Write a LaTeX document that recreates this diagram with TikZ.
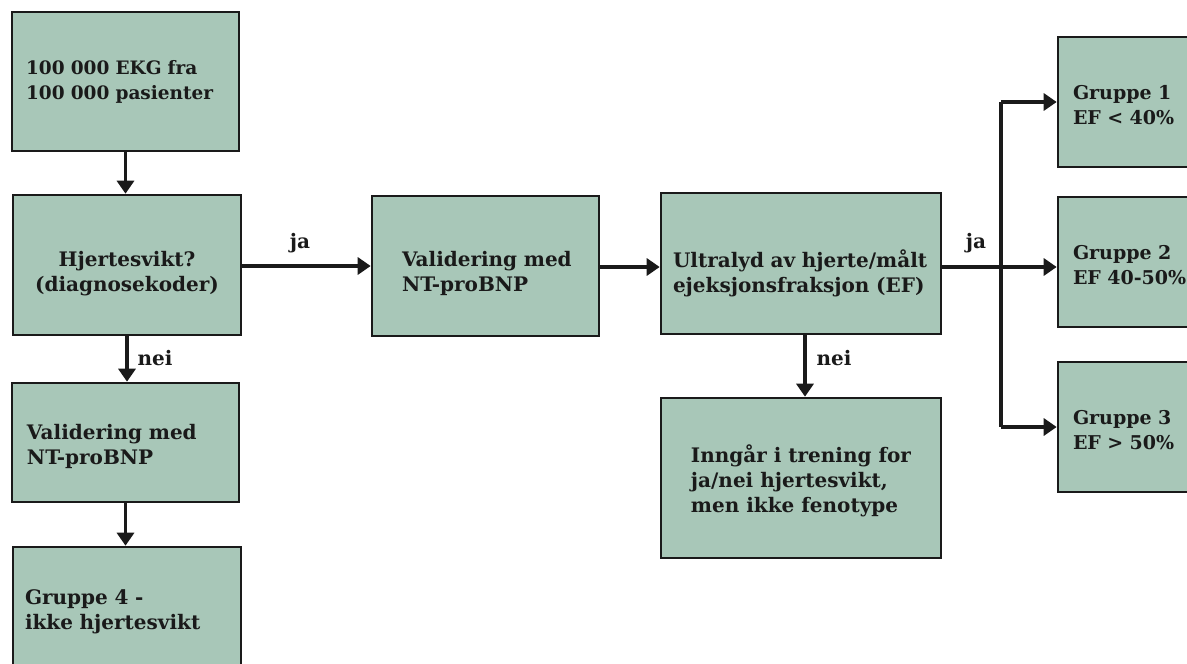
\documentclass[tikz,border=0pt]{standalone}
\usepackage{fontspec}
\setmainfont{DejaVu Serif}
\usetikzlibrary{arrows.meta}
\definecolor{boxfill}{RGB}{168,199,184}
\definecolor{ink}{RGB}{26,26,26}
% #1 = column type, #2 = downward shift, #3 = lines
\newcommand{\txtlines}[3]{\begin{tabular}{@{}#1@{}}\rule{0pt}{\dimexpr\ht\strutbox+#2*2\relax}#3\end{tabular}}
\tikzset{
  box/.style={draw=ink, line width=2.6pt, fill=boxfill, inner ysep=0pt,
    font=\bfseries\fontsize{20}{25}\selectfont, text=ink},
  smallfont/.style={font=\bfseries\fontsize{19}{24.5}\selectfont},
  arr/.style={draw=ink, line width=3.3pt, -{Triangle[width=17pt,length=13pt]}},
  ln/.style={draw=ink, line width=3.3pt},
  lbl/.style={font=\bfseries\fontsize{20}{25}\selectfont, text=ink, inner sep=0pt}
}
\begin{document}
\begin{tikzpicture}[x=1pt,y=-1pt]
\useasboundingbox (0,0) rectangle (1187,664);
\clip (0,0) rectangle (1187,664);
% boxes
\node[box, font=\bfseries\fontsize{18.5}{24.5}\selectfont, minimum width=227pt, minimum height=139pt, inner xsep=14pt, text width=199pt, align=left] (A) at (125.5,81.5) {\txtlines{l}{0.5pt}{100 000 EKG fra\\100 000 pasienter}};
\node[box, minimum width=228pt, minimum height=140pt, align=center] (B) at (127,265) {\txtlines{c}{9pt}{Hjertesvikt?\\(diagnosekoder)}};
\node[box, minimum width=227pt, minimum height=119pt, inner xsep=15pt, text width=197pt, align=left] (C) at (125.5,442.5) {\txtlines{l}{4pt}{Validering med\\NT-proBNP}};
\node[box, minimum width=228pt, minimum height=126pt, inner xsep=12pt, text width=204pt, align=left] (D) at (127,610) {\txtlines{l}{2pt}{Gruppe 4 -\\ikke hjertesvikt}};
\node[box, minimum width=227pt, minimum height=140pt, inner xsep=30pt, text width=167pt, align=left] (E) at (485.5,266) {\txtlines{l}{8pt}{Validering med\\NT-proBNP}};
\node[box, minimum width=280pt, minimum height=141pt, inner xsep=12pt, text width=256pt, align=left] (F) at (801,263.5) {\txtlines{l}{11pt}{Ultralyd av hjerte/målt\\ejeksjonsfraksjon (EF)}};
\node[box, minimum width=280pt, minimum height=160pt, align=center] (G) at (801,478) {\txtlines{l}{4pt}{Inngår i trening for\\ja/nei hjertesvikt,\\men ikke fenotype}};
\node[box, smallfont, minimum width=150pt, minimum height=130pt, inner xsep=15pt, text width=120pt, align=left] (R1) at (1133,102) {\txtlines{l}{5pt}{Gruppe 1\\EF < 40\%}};
\node[box, smallfont, minimum width=150pt, minimum height=130pt, inner xsep=15pt, text width=120pt, align=left] (R2) at (1133,262) {\txtlines{l}{5pt}{Gruppe 2\\EF 40-50\%}};
\node[box, smallfont, minimum width=150pt, minimum height=130pt, inner xsep=15pt, text width=120pt, align=left] (R3) at (1133,427) {\txtlines{l}{5pt}{Gruppe 3\\EF > 50\%}};
% connectors
\draw[arr] (A.south) -- (A.south |- B.north);
\draw[arr] (B.east |- E.west) -- (E.west);
\draw[arr] (B.south) -- (B.south |- C.north);
\draw[arr] (C.south) -- (C.south |- D.north);
\draw[arr] (E.east |- 0,267) -- (F.west |- 0,267);
\draw[arr] (F.south -| 805,0) -- (805,0 |- G.north);
\coordinate (J) at (1001,267);
\draw[arr] (F.east |- J) -- (J -| R2.west);
\draw[ln] (J |- R1.west) -- (J |- R3.west);
\draw[arr] (J |- R1.west) -- (R1.west);
\draw[arr] (J |- R3.west) -- (R3.west);
% labels
\node[lbl] (l1) at (300,243) {ja};
\node[lbl] (l2) at (155,358) {nei};
\node[lbl] (l3) at (834,358) {nei};
\node[lbl] (l4) at (976,243) {ja};
\end{tikzpicture}
\end{document}
